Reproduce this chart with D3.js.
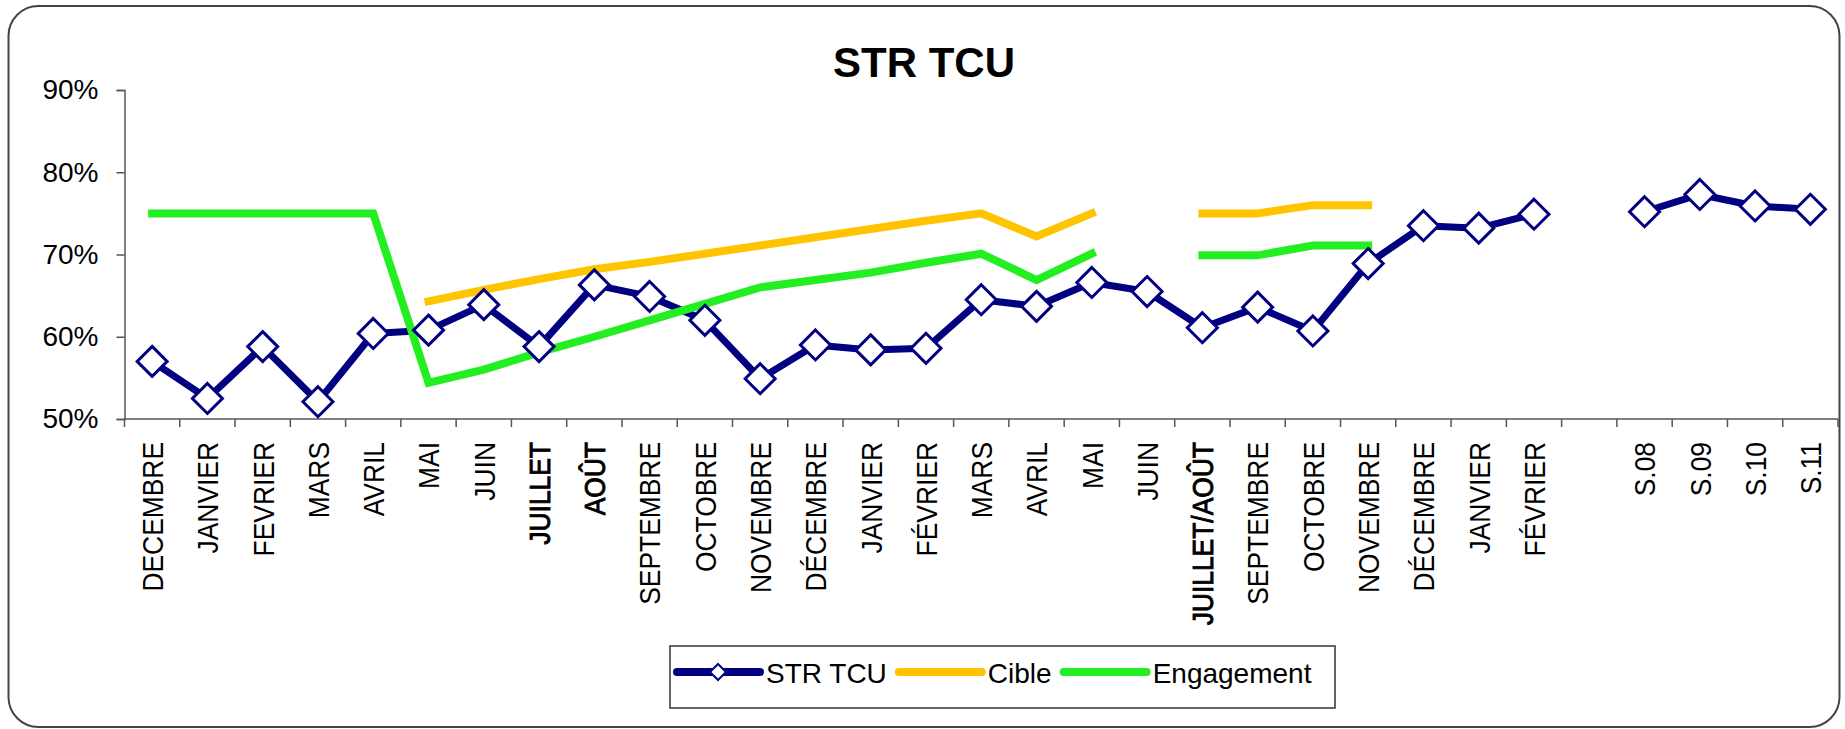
<!DOCTYPE html>
<html>
<head>
<meta charset="utf-8">
<title>STR TCU</title>
<style type="text/css">
html, body {
  margin: 0;
  padding: 0;
  background: #fff;
}
text {
  font-family: 'Liberation Sans', Arial, sans-serif;
}
</style>
</head>
<body>

<script src="https://d3js.org/d3.v7.min.js"></script>
<script type="text/javascript">

// month labels (one empty slot between FÉVRIER and the weeks)
const categories = ['DECEMBRE', 'JANVIER', 'FEVRIER', 'MARS', 'AVRIL', 'MAI', 'JUIN',
  'JUILLET', 'AOÛT', 'SEPTEMBRE', 'OCTOBRE', 'NOVEMBRE', 'DÉCEMBRE', 'JANVIER',
  'FÉVRIER', 'MARS', 'AVRIL', 'MAI', 'JUIN', 'JUILLET/AOÛT', 'SEPTEMBRE', 'OCTOBRE',
  'NOVEMBRE', 'DÉCEMBRE', 'JANVIER', 'FÉVRIER', '', 'S.08', 'S.09', 'S.10', 'S.11'];

const boldLabels = ['JUILLET', 'AOÛT', 'JUILLET/AOÛT'];

// values in %
const strTcu = [57.0, 52.5, 58.8, 52.1, 60.4, 60.8, 63.9, 58.8, 66.3, 64.9, 62.0, 54.9,
  59.0, 58.4, 58.6, 64.5, 63.7, 66.6, 65.5, 61.1, 63.6, 60.7, 68.9, 73.5, 73.2, 74.9,
  null, 75.2, 77.3, 75.9, 75.5];

const cible = [null, null, null, null, null, 64.3, 65.7, 67.0, 68.2, 69.1, 70.1, 71.1,
  72.1, 73.1, 74.1, 75.0, 72.2, 75.0, null, 75.0, 75.0, 76.0, 76.0,
  null, null, null, null, null, null, null, null];

const engagement = [75.0, 75.0, 75.0, 75.0, 75.0, 54.4, 56.0, 58.1, 60.0, 62.0, 64.0,
  66.0, 66.9, 67.8, 69.0, 70.1, 66.9, 70.1, null, 69.9, 69.9, 71.1, 71.1,
  null, null, null, null, null, null, null, null];

const yTicks = [50, 60, 70, 80, 90];

const W = 1845, H = 729;

const svg = d3.select('body').append('svg')
    .attr('width', W)
    .attr('height', H);

// chart frame with rounded corners
svg.append('rect')
    .attr('x', 8.5)
    .attr('y', 6)
    .attr('width', 1831)
    .attr('height', 721)
    .attr('rx', 30)
    .attr('fill', '#fff')
    .attr('stroke', '#444')
    .attr('stroke-width', 2);

// plot area
const plotLeft = 124.5, plotRight = 1838, plotTop = 90, plotBottom = 419;

const x = d3.scaleBand()
    .domain(d3.range(categories.length))
    .range([plotLeft, plotRight])
    .padding(0);

const y = d3.scaleLinear()
    .domain([50, 90])
    .range([plotBottom, plotTop]);

const cx = i => x(i) + x.bandwidth() / 2;

// title
svg.append('text')
    .attr('x', 924)
    .attr('y', 77)
    .attr('text-anchor', 'middle')
    .style('font-size', '42px')
    .style('font-weight', 'bold')
    .text('STR TCU');

// y axis
const yAxis = svg.append('g')
    .attr('transform', 'translate(' + plotLeft + ',0)')
    .call(d3.axisLeft(y)
      .tickValues(yTicks)
      .tickSize(8)
      .tickPadding(18)
      .tickFormat(d => d + '%'));

yAxis.select('.domain').attr('stroke', '#555').attr('stroke-width', 1.5);
yAxis.selectAll('.tick line').attr('stroke', '#555').attr('stroke-width', 1.5);
yAxis.selectAll('.tick text')
    .style('font-size', '28px')
    .attr('fill', '#000');

// x axis: line + ticks on the category borders
const xAxis = svg.append('g')
    .attr('transform', 'translate(0,' + plotBottom + ')');

xAxis.append('line')
    .attr('x1', plotLeft)
    .attr('x2', plotRight)
    .attr('stroke', '#555')
    .attr('stroke-width', 1.5);

const borders = d3.range(categories.length).map(i => x(i)).concat([plotRight]);

xAxis.selectAll('.border')
    .data(borders)
  .enter().append('line')
    .attr('class', 'border')
    .attr('x1', d => d)
    .attr('x2', d => d)
    .attr('y1', 0)
    .attr('y2', 8)
    .attr('stroke', '#555')
    .attr('stroke-width', 1.5);

// rotated labels, a bit condensed; the "bold" ones only get a thin outline
xAxis.selectAll('.lbl')
    .data(categories)
  .enter().append('text')
    .attr('class', 'lbl')
    .attr('transform', (d, i) => 'translate(' + cx(i) + ',23) rotate(-90) scale(0.88,1)')
    .attr('text-anchor', 'end')
    .attr('dy', '0.36em')
    .style('font-size', '30px')
    .attr('stroke', d => boldLabels.includes(d) ? '#000' : 'none')
    .attr('stroke-width', 0.9)
    .text(d => d);

// series lines
const line = d3.line()
    .defined(d => d != null)
    .x((d, i) => cx(i))
    .y(d => y(d));

svg.append('path')
    .datum(strTcu)
    .attr('fill', 'none')
    .attr('stroke', '#000080')
    .attr('stroke-width', 7)
    .attr('stroke-linejoin', 'round')
    .attr('d', line);

svg.append('path')
    .datum(cible)
    .attr('fill', 'none')
    .attr('stroke', '#FFC400')
    .attr('stroke-width', 8)
    .attr('stroke-linecap', 'square')
    .attr('d', line);

svg.append('path')
    .datum(engagement)
    .attr('fill', 'none')
    .attr('stroke', '#22EE22')
    .attr('stroke-width', 8)
    .attr('stroke-linecap', 'square')
    .attr('d', line);

// diamond markers
const diamond = s => 'M0,' + (-s) + 'L' + s + ',0L0,' + s + 'L' + (-s) + ',0Z';

svg.selectAll('.marker')
    .data(strTcu.map((v, i) => ({v: v, i: i})).filter(d => d.v != null))
  .enter().append('path')
    .attr('class', 'marker')
    .attr('transform', d => 'translate(' + cx(d.i) + ',' + y(d.v) + ')')
    .attr('d', diamond(15))
    .attr('fill', '#fff')
    .attr('stroke', '#000080')
    .attr('stroke-width', 3);

// legend
const legend = svg.append('g');

legend.append('rect')
    .attr('x', 670)
    .attr('y', 646)
    .attr('width', 665)
    .attr('height', 62)
    .attr('fill', '#fff')
    .attr('stroke', '#333')
    .attr('stroke-width', 1.5);

const items = [
  {name: 'STR TCU', color: '#000080', marker: true},
  {name: 'Cible', color: '#FFC400', marker: false},
  {name: 'Engagement', color: '#22EE22', marker: false}
];

let lx = 677;
const ly = 672;
items.forEach(function(it) {
  legend.append('line')
      .attr('x1', lx)
      .attr('x2', lx + 83)
      .attr('y1', ly)
      .attr('y2', ly)
      .attr('stroke', it.color)
      .attr('stroke-width', 8)
      .attr('stroke-linecap', 'round');
  if (it.marker) {
    legend.append('path')
        .attr('transform', 'translate(' + (lx + 41) + ',' + ly + ')')
        .attr('d', diamond(8))
        .attr('fill', '#fff')
        .attr('stroke', it.color)
        .attr('stroke-width', 2);
  }
  const t = legend.append('text')
      .attr('x', lx + 89)
      .attr('y', ly + 11)
      .style('font-size', '28px')
      .text(it.name);
  lx = lx + 89 + t.node().getComputedTextLength() + 12;
});

</script>

</body>
</html>
